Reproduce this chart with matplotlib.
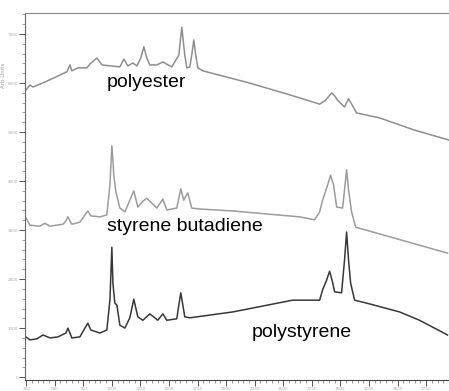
import numpy as np
import matplotlib.pyplot as plt
from matplotlib.ticker import MultipleLocator

# Raman shift (cm-1) and intensity (arb. units) for each sample
polyester_wn = [248, 283, 310, 414, 607, 633, 650, 703, 782, 808, 869, 913,
                1070, 1105, 1140, 1184, 1219, 1253, 1280, 1306, 1332, 1393,
                1446, 1524, 1586, 1612, 1638, 1656, 1682, 1699, 1717, 1734,
                1752, 1795, 2206, 2556, 2818, 2870, 2923, 2949, 2975, 3036,
                3071, 3098, 3141, 3342, 3648, 3945]
polyester_int = [5860, 5960, 5920, 6020, 6230, 6370, 6250, 6310, 6310, 6390,
                 6510, 6370, 6330, 6490, 6350, 6410, 6350, 6510, 6740, 6510,
                 6370, 6370, 6430, 6330, 6570, 7140, 6570, 6310, 6330, 6570,
                 6880, 6570, 6310, 6250, 6000, 5760, 5570, 5650, 5800, 5740,
                 5650, 5510, 5680, 5570, 5390, 5290, 5040, 4840]

sb_wn = [248, 283, 370, 414, 458, 572, 598, 615, 633, 650, 720, 764, 790, 816,
         895, 956, 983, 1000, 1009, 1017, 1035, 1070, 1114, 1157, 1192, 1227,
         1271, 1306, 1350, 1393, 1446, 1481, 1568, 1603, 1629, 1664, 1699,
         1769, 2058, 2643, 2774, 2818, 2844, 2888, 2914, 2940, 2967, 3019,
         3036, 3054, 3071, 3098, 3133, 3937]
sb_int = [3250, 3100, 3080, 3140, 3080, 3120, 3190, 3270, 3190, 3120, 3160,
          3310, 3390, 3290, 3270, 3310, 3920, 4720, 4430, 4120, 3780, 3450,
          3370, 3610, 3800, 3470, 3590, 3650, 3550, 3450, 3630, 3410, 3450,
          3840, 3610, 3760, 3450, 3430, 3390, 3270, 3210, 3370, 3610, 3920,
          4120, 3920, 3470, 3450, 3820, 4230, 3820, 3370, 3060, 2530]

ps_wn = [248, 283, 344, 397, 458, 528, 598, 615, 633, 650, 720, 764, 790, 816,
         895, 956, 983, 1000, 1009, 1026, 1044, 1070, 1114, 1157, 1192, 1227,
         1271, 1332, 1376, 1402, 1446, 1481, 1568, 1586, 1603, 1621, 1638,
         1682, 2058, 2582, 2818, 2844, 2879, 2905, 2931, 2949, 3010, 3036,
         3054, 3071, 3089, 3124, 3229, 3517, 3692, 3937]
ps_int = [820, 760, 780, 860, 800, 820, 900, 1000, 900, 800, 820, 1000, 1100,
          960, 900, 960, 1570, 2650, 1920, 1510, 1470, 1060, 1000, 1210, 1590,
          1230, 1160, 1290, 1210, 1160, 1290, 1160, 1190, 1470, 1720, 1470,
          1230, 1210, 1330, 1570, 1570, 1780, 1980, 2160, 1940, 1740, 1720,
          2390, 2960, 2390, 1920, 1570, 1510, 1330, 1160, 860]

x_ticks = np.arange(250, 4000, 250)

fig = plt.figure(figsize=(4.49, 3.91), dpi=100)
ax = fig.add_axes([0.0557, 0.028, 0.9443, 0.9388])

ax.plot(polyester_wn, polyester_int, color="#8e8e8e", lw=1.1)
ax.plot(sb_wn, sb_int, color="#9c9c9c", lw=1.1)
ax.plot(ps_wn, ps_int, color="#383838", lw=1.1)

lab = dict(fontsize=14, family="Liberation Sans", color="black",
           ha="left", va="baseline")
ax.text(956, 5920, "polyester", **lab)
ax.text(956, 2990, "styrene butadiene", **lab)
ax.text(2224, 820, "polystyrene", **lab)

ax.set_xlim(240, 3950)
ax.set_ylim(-60, 7430)

ax.set_xticks(x_ticks)
ax.set_xticklabels([str(v) for v in x_ticks])
ax.xaxis.set_minor_locator(MultipleLocator(50))
ax.yaxis.set_major_locator(MultipleLocator(1000))
ax.yaxis.set_minor_locator(MultipleLocator(200))
ax.tick_params(axis="both", which="major", length=4, width=0.7,
               color="#555555", labelsize=3, labelcolor="#aaaaaa", pad=1)
ax.tick_params(axis="both", which="minor", length=2, width=0.5,
               color="#777777")

ax.set_ylabel("Arb Units", fontsize=4, color="#999999", labelpad=1)
ax.yaxis.set_label_coords(-0.045, 0.83)

ax.spines["right"].set_visible(False)
ax.spines["top"].set_color("#888888")
ax.spines["top"].set_linewidth(0.8)
ax.spines["left"].set_color("#666666")
ax.spines["left"].set_linewidth(0.8)
ax.spines["bottom"].set_color("#444444")
ax.spines["bottom"].set_linewidth(0.8)

fig.savefig("out.png", dpi=100)
